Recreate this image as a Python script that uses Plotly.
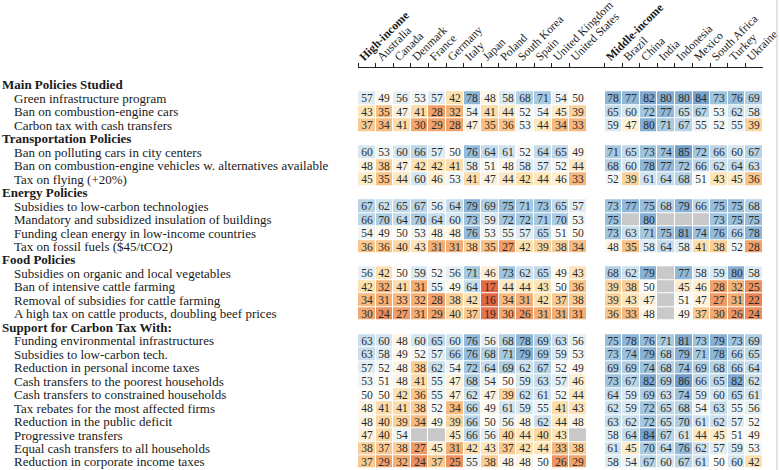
import plotly.graph_objects as go

# ---------------- data ----------------
high_cols = ["High-income", "Australia", "Canada", "Denmark", "France", "Germany", "Italy",
             "Japan", "Poland", "South Korea", "Spain", "United Kingdom", "United States"]
mid_cols = ["Middle-income", "Brazil", "China", "India", "Indonesia", "Mexico",
            "South Africa", "Turkey", "Ukraine"]

group_names = ["Main Policies Studied", "Transportation Policies", "Energy Policies",
               "Food Policies", "Support for Carbon Tax With:"]

main_labels = ["Green infrastructure program", "Ban on combustion-engine cars",
               "Carbon tax with cash transfers"]
main_values = [
    [57, 49, 56, 53, 57, 42, 78, 48, 58, 68, 71, 54, 50, 78, 77, 82, 80, 80, 84, 73, 76, 69],
    [43, 35, 47, 41, 28, 32, 54, 41, 44, 52, 54, 45, 39, 65, 60, 72, 77, 65, 67, 53, 62, 58],
    [37, 34, 41, 30, 29, 28, 47, 35, 36, 53, 44, 34, 33, 59, 47, 80, 71, 67, 55, 52, 55, 39],
]

transport_labels = ["Ban on polluting cars in city centers",
                    "Ban on combustion-engine vehicles w. alternatives available",
                    "Tax on flying (+20%)"]
transport_values = [
    [60, 53, 60, 66, 57, 50, 76, 64, 61, 52, 64, 65, 49, 71, 65, 73, 74, 85, 72, 66, 60, 67],
    [48, 38, 47, 42, 42, 41, 58, 51, 48, 58, 57, 52, 44, 68, 60, 78, 77, 72, 66, 62, 64, 63],
    [45, 35, 44, 60, 46, 53, 41, 47, 44, 42, 44, 46, 33, 52, 39, 61, 64, 68, 51, 43, 45, 36],
]

energy_labels = ["Subsidies to low-carbon technologies",
                 "Mandatory and subsidized insulation of buildings",
                 "Funding clean energy in low-income countries",
                 "Tax on fossil fuels ($45/tCO2)"]
energy_values = [
    [67, 62, 65, 67, 56, 64, 79, 69, 75, 71, 73, 65, 57, 73, 77, 75, 68, 79, 66, 75, 75, 68],
    [66, 70, 64, 70, 64, 60, 73, 59, 72, 72, 71, 70, 53, 75, None, 80, None, None, None, 73, 75, 75],
    [54, 49, 50, 53, 48, 48, 76, 53, 55, 57, 65, 51, 50, 73, 63, 71, 75, 81, 74, 76, 66, 78],
    [36, 36, 40, 43, 31, 31, 38, 35, 27, 42, 39, 38, 34, 48, 35, 58, 64, 58, 41, 38, 52, 28],
]

food_labels = ["Subsidies on organic and local vegetables",
               "Ban of intensive cattle farming",
               "Removal of subsidies for cattle farming",
               "A high tax on cattle products, doubling beef prices"]
food_values = [
    [56, 42, 50, 59, 52, 56, 71, 46, 73, 62, 65, 49, 43, 68, 62, 79, None, 77, 58, 59, 80, 58],
    [42, 32, 41, 31, 55, 49, 64, 17, 44, 44, 43, 50, 36, 39, 38, 50, None, 45, 46, 28, 32, 25],
    [34, 31, 33, 32, 28, 38, 42, 16, 34, 31, 42, 37, 38, 39, 43, 47, None, 51, 47, 27, 31, 22],
    [30, 24, 27, 31, 29, 40, 37, 19, 30, 26, 31, 31, 31, 36, 33, 48, None, 49, 37, 30, 26, 24],
]

support_labels = ["Funding environmental infrastructures",
                  "Subsidies to low-carbon tech.",
                  "Reduction in personal income taxes",
                  "Cash transfers to the poorest households",
                  "Cash transfers to constrained households",
                  "Tax rebates for the most affected firms",
                  "Reduction in the public deficit",
                  "Progressive transfers",
                  "Equal cash transfers to all households",
                  "Reduction in corporate income taxes"]
support_values = [
    [63, 60, 48, 60, 65, 60, 76, 56, 68, 78, 69, 63, 56, 75, 78, 76, 71, 81, 73, 79, 73, 69],
    [63, 58, 49, 52, 57, 66, 76, 68, 71, 79, 69, 59, 53, 73, 74, 79, 68, 79, 71, 78, 66, 65],
    [57, 52, 48, 38, 62, 54, 72, 64, 69, 62, 67, 52, 49, 69, 69, 74, 68, 74, 69, 68, 66, 64],
    [53, 51, 48, 41, 55, 47, 68, 54, 50, 59, 63, 57, 46, 73, 67, 82, 69, 86, 66, 65, 82, 62],
    [50, 50, 42, 36, 55, 47, 62, 47, 39, 62, 61, 52, 44, 64, 59, 69, 63, 74, 59, 60, 65, 61],
    [48, 41, 41, 38, 52, 34, 66, 49, 61, 59, 55, 41, 43, 62, 59, 72, 65, 68, 54, 63, 55, 56],
    [48, 40, 39, 34, 49, 39, 66, 50, 56, 48, 62, 44, 48, 63, 62, 72, 65, 70, 61, 62, 57, 52],
    [47, 40, 54, None, None, 45, 66, 56, 40, 44, 40, 43, None, 58, 64, 84, 67, 61, 44, 45, 51, 49],
    [38, 37, 38, 27, 45, 31, 42, 43, 37, 42, 44, 33, 38, 61, 45, 70, 64, 76, 62, 57, 59, 53],
    [37, 29, 32, 24, 37, 25, 55, 38, 48, 48, 50, 26, 29, 58, 54, 67, 60, 67, 61, 50, 60, 42],
]

groups = [
    (group_names[0], main_labels, main_values),
    (group_names[1], transport_labels, transport_values),
    (group_names[2], energy_labels, energy_values),
    (group_names[3], food_labels, food_values),
    (group_names[4], support_labels, support_values),
]

# ---------------- layout constants ----------------
W, H = 780, 470
ML, MR, MT, MB = 358, 17, 68, 0
FONT = "Liberation Serif"

n_high = len(high_cols)
n_mid = len(mid_cols)
col_pos = list(range(n_high)) + [n_high + 1 + i for i in range(n_mid)]
n_x = n_high + 1 + n_mid

# build matrices
z_rows, t_rows, g_rows = [], [], []
label_entries = []  # (row_index, text, is_header)
r = 0
for gname, labels, values in groups:
    z_rows.append([None] * n_x)
    t_rows.append([""] * n_x)
    g_rows.append([None] * n_x)
    label_entries.append((r, gname, True))
    r += 1
    for lab, vals in zip(labels, values):
        zr = [None] * n_x
        tr = [""] * n_x
        gr = [None] * n_x
        for p, v in zip(col_pos, vals):
            if v is None:
                gr[p] = 1
            else:
                zr[p] = v
                tr[p] = str(v)
        z_rows.append(zr)
        t_rows.append(tr)
        g_rows.append(gr)
        label_entries.append((r, lab, False))
        r += 1
n_rows = r

colorscale = [
    [0.00, "#c0392b"],
    [0.16, "#df6642"],
    [0.28, "#f0a06a"],
    [0.35, "#f7c084"],
    [0.42, "#fbe2b0"],
    [0.50, "#fdfcf8"],
    [0.60, "#d5e7f1"],
    [0.72, "#a3c7e0"],
    [0.85, "#739fcb"],
    [1.00, "#4273ab"],
]

fig = go.Figure()
fig.add_trace(go.Heatmap(
    z=g_rows, x=list(range(n_x)), y=list(range(n_rows)),
    colorscale=[[0, "#c9c9c9"], [1, "#c9c9c9"]], zmin=0, zmax=1,
    showscale=False, xgap=1, ygap=1, hoverinfo="skip"))
fig.add_trace(go.Heatmap(
    z=z_rows, x=list(range(n_x)), y=list(range(n_rows)),
    text=t_rows, texttemplate="%{text}",
    textfont=dict(family=FONT, size=11.5, color="#2a2a2a"),
    colorscale=colorscale, zmin=0, zmax=100,
    showscale=False, xgap=1, ygap=1))

plot_w = W - ML - MR
for row, txt, is_header in label_entries:
    px = 1 if is_header else 13
    fig.add_annotation(
        x=(px - ML) / plot_w, xref="paper", y=row, yref="y",
        text=f"<b>{txt}</b>" if is_header else txt,
        showarrow=False, xanchor="left", yanchor="middle", borderpad=0,
        font=dict(family=FONT, size=13, color="#1a1a1a"))

# thin frame line at the right edge of the page
fig.add_shape(type="line", xref="paper", yref="paper",
              x0=(777 - ML) / plot_w, x1=(777 - ML) / plot_w, y0=0, y1=H / (H - MT - MB),
              line=dict(color="#c8c8c8", width=1))

tick_text = [f"<b>{high_cols[0]}</b>"] + high_cols[1:] + [f"<b>{mid_cols[0]}</b>"] + mid_cols[1:]
fig.update_xaxes(
    side="top", range=[-0.5, n_x - 0.5], automargin=False,
    tickvals=[p - 0.5 for p in col_pos], ticktext=tick_text,
    tickangle=-45, ticks="outside", ticklen=4, tickcolor="#222", tickwidth=1,
    showline=True, linecolor="#222", linewidth=1, ticklabeloverflow="allow",
    ticklabelstandoff=-5, ticklabelshift=2,
    showgrid=False, zeroline=False,
    tickfont=dict(family=FONT, size=11.7, color="#1a1a1a"))
fig.update_yaxes(
    range=[n_rows - 0.4, -1.26], showticklabels=False, showgrid=False, automargin=False,
    zeroline=False, showline=False, ticks="")

fig.update_layout(
    width=W, height=H, margin=dict(l=ML, r=MR, t=MT, b=MB, pad=0, autoexpand=False),
    paper_bgcolor="white", plot_bgcolor="white", showlegend=False)

fig.write_html(
    "out.html",
    config={"displayModeBar": False},
    post_script="document.documentElement.style.margin='0';document.body.style.margin='0';"
                "document.body.style.overflow='hidden';")
